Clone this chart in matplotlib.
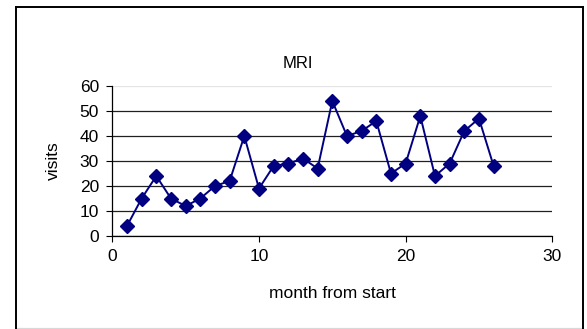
import matplotlib
matplotlib.use('Agg')
import matplotlib.pyplot as plt
from matplotlib.lines import Line2D

# data
months = list(range(1, 27))
visits = [4, 15, 24, 15, 12, 15, 20, 22, 40, 19, 28, 29, 31, 27, 54,
          40, 42, 46, 25, 29, 48, 24, 29, 42, 47, 28]
x_ticks = [0, 10, 20, 30]
y_ticks = [0, 10, 20, 30, 40, 50, 60]

W, H = 587, 329
plt.rcParams['font.family'] = ['Liberation Sans', 'DejaVu Sans']
fig = plt.figure(figsize=(W / 100, H / 100), dpi=100)
fig.patch.set_facecolor('white')

# plot area in pixels: left 112, right 552, top 86, bottom 236
ax = fig.add_axes([112.3 / W, 1 - 236 / H, (552.3 - 112.3) / W, (236 - 86) / H])
ax.plot(months, visits, color='#000080', linewidth=1.4, marker='D',
        markersize=7.5, markerfacecolor='#000080', markeredgecolor='#000080',
        clip_on=False, zorder=3)

ax.set_xlim(0, 30)
ax.set_ylim(0, 60)
ax.set_xticks(x_ticks)
ax.set_yticks(y_ticks)
ax.tick_params(axis='both', direction='out', length=4.5, width=0.8,
               labelsize=12.5, colors='black', pad=5)

for side in ['top', 'right']:
    ax.spines[side].set_visible(False)
for side in ['left', 'bottom']:
    ax.spines[side].set_linewidth(0.9)
    ax.spines[side].set_color('black')

ax.yaxis.grid(True, color='#202020', linewidth=0.9)
ax.set_axisbelow(True)
# top gridline is drawn much lighter in the reference
ax.yaxis.get_gridlines()[-1].set_color('#e4e4e4')

fig.text(297.7 / W, 1 - 64 / H, 'MRI', ha='center', va='center', fontsize=12)
fig.text(53 / W, 1 - 161 / H, 'visits', ha='center', va='center',
         rotation=90, fontsize=12.5)
fig.text(332.3 / W, 1 - 293 / H, 'month from start', ha='center', va='center',
         fontsize=12.5)

# outer chart frame
def fline(x0, y0, x1, y1, **kw):
    fig.add_artist(Line2D([x0 / W, x1 / W], [1 - y0 / H, 1 - y1 / H],
                          transform=fig.transFigure, **kw))

fline(15.5, 327.7, 582.7, 327.7, color='#d8d8d8', linewidth=0.9)
fline(15.5, 7, 15.5, 329, color='black', linewidth=1.4)
fline(15.5, 7, 582.7, 7, color='black', linewidth=1.4)
fline(582.7, 7, 582.7, 329, color='black', linewidth=1.4)

fig.savefig('out.png', dpi=100)
